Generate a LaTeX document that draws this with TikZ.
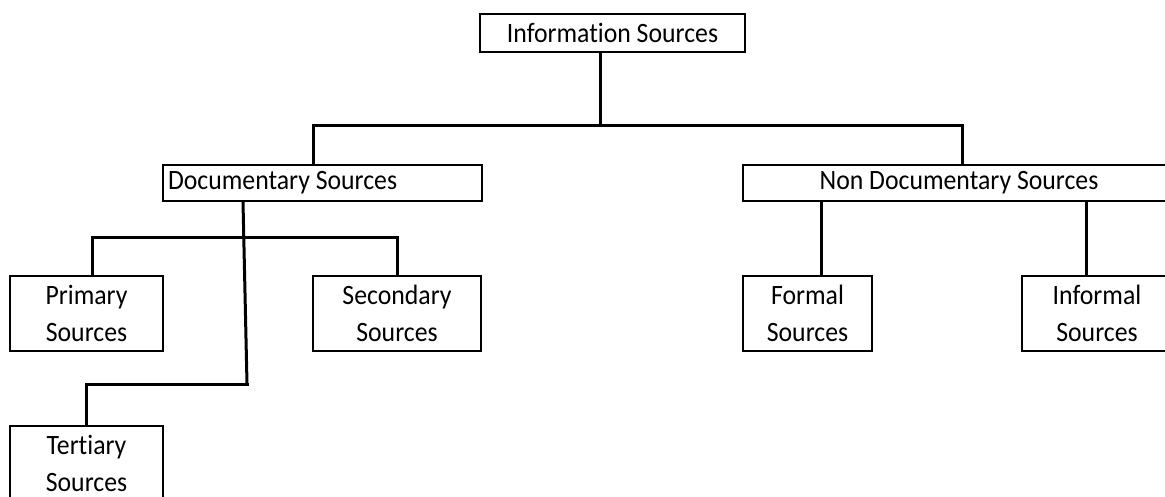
\documentclass[tikz,border=0pt]{standalone}
\usepackage{fontspec}
\setmainfont[Ligatures=NoCommon,FakeStretch=0.92]{Carlito}
\begin{document}
\begin{tikzpicture}[x=1pt,y=-1pt,
  box/.style={draw=black,line width=1.8pt,inner sep=0pt,align=center,
    font=\fontsize{28}{37}\selectfont},
  link/.style={line width=3pt,line cap=rect}]
\useasboundingbox (0,0) rectangle (1165,496);
\clip (0,0) rectangle (1165,496);
\fill[white] (0,0) rectangle (1165,496);

% boxes
\node[box,minimum width=265pt,minimum height=38pt] (info) at (612.5,33) {Information Sources};
\node[box,minimum width=319pt,minimum height=36pt] (doc) at (322.5,183) {\makebox[309pt][l]{Documentary Sources}};
\node[box,minimum width=432pt,minimum height=36pt] (nondoc) at (959,183) {Non Documentary Sources};
\node[box,minimum width=153pt,minimum height=75pt] (prim) at (86.5,313.5) {Primary\\Sources};
\node[box,minimum width=168pt,minimum height=75pt] (sec) at (397,313.5) {Secondary\\Sources};
\node[box,minimum width=153pt,minimum height=75pt] (tert) at (86.5,463.5) {Tertiary\\Sources};
\node[box,minimum width=129pt,minimum height=75pt] (formal) at (807.5,313.5) {Formal\\Sources};
\node[box,minimum width=150pt,minimum height=75pt] (informal) at (1097,313.5) {Informal\\Sources};

% junction points
\coordinate (busA) at (600,125);
\coordinate (busB) at (243,237);
\coordinate (bendT) at (247,384);

% top level
\draw[link] (info.south -| busA) -- (busA);
\draw[link] (busA -| 313,0) -- (busA -| 962,0);
\draw[link] (busA -| 313,0) -- (doc.north -| 313,0);
\draw[link] (busA -| 962,0) -- (nondoc.north -| 962,0);

% documentary branch
\draw[link] (doc.south -| busB) -- (bendT);
\draw[link] (busB -| 92,0) -- (busB -| 397,0);
\draw[link] (busB -| 92,0) -- (prim.north -| 92,0);
\draw[link] (busB -| 397,0) -- (sec.north -| 397,0);
\draw[link] (bendT) -- (bendT -| 86,0) -- (tert.north -| 86,0);

% non documentary branch
\draw[link] (nondoc.south -| 821,0) -- (formal.north -| 821,0);
\draw[link] (nondoc.south -| 1086,0) -- (informal.north -| 1086,0);
\end{tikzpicture}
\end{document}
